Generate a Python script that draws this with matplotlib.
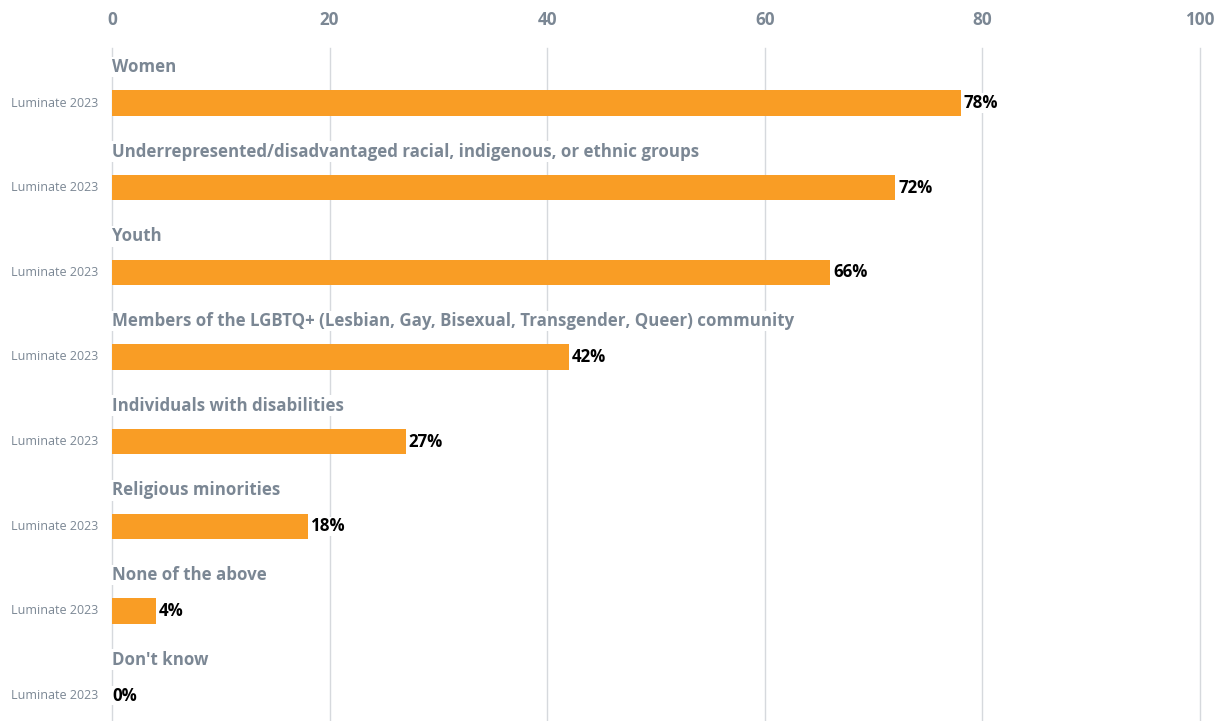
import matplotlib
matplotlib.use("Agg")
import matplotlib.pyplot as plt

categories = [
    "Women",
    "Underrepresented/disadvantaged racial, indigenous, or ethnic groups",
    "Youth",
    "Members of the LGBTQ+ (Lesbian, Gay, Bisexual, Transgender, Queer) community",
    "Individuals with disabilities",
    "Religious minorities",
    "None of the above",
    "Don't know",
]
series_name = "Luminate 2023"
values = [78, 72, 66, 42, 27, 18, 4, 0]
xticks = [0, 20, 40, 60, 80, 100]

plt.rcParams['font.family'] = ['Open Sans', 'DejaVu Sans']

orange = "#f99d25"
gray = "#7b8794"
grid = "#d6d9dd"

W, H = 1228, 721
fig = plt.figure(figsize=(W / 100, H / 100), dpi=100)
ax = fig.add_axes([112 / W, 0, (1200 - 112) / W, 1 - 48 / H])

rows = list(range(len(categories)))
ax.barh(rows, values, height=0.3, color=orange, zorder=2)

ax.set_xlim(0, 100)
ax.set_ylim(7.30, -0.65)
ax.set_xticks(xticks)
ax.set_xticklabels([str(t) for t in xticks])
ax.xaxis.tick_top()
ax.tick_params(axis="x", length=0, pad=14, labelsize=12.3, labelcolor=gray)
for lab in ax.get_xticklabels():
    lab.set_fontweight("bold")
ax.set_yticks([])
for t in xticks:
    ax.axvline(t, color=grid, linewidth=1, zorder=0, clip_on=False)
for s in ax.spines.values():
    s.set_visible(False)

for i, (cat, v) in enumerate(zip(categories, values)):
    ax.text(0, i - 0.425, cat, ha="left", va="center", fontsize=12.2,
            fontweight="bold", color=gray, zorder=3,
            bbox=dict(facecolor="white", edgecolor="none", pad=1))
    off = 0.28 if v > 0 else 0
    ax.text(v + off, i, f"{v}%", ha="left", va="center", fontsize=12.2,
            fontweight="bold", color="black", zorder=3,
            bbox=dict(facecolor="white", edgecolor="none", pad=0.5))
    ax.text(-1.3, i, series_name, ha="right", va="center", fontsize=9,
            color=gray, zorder=3)

fig.savefig("out.png", dpi=100)
